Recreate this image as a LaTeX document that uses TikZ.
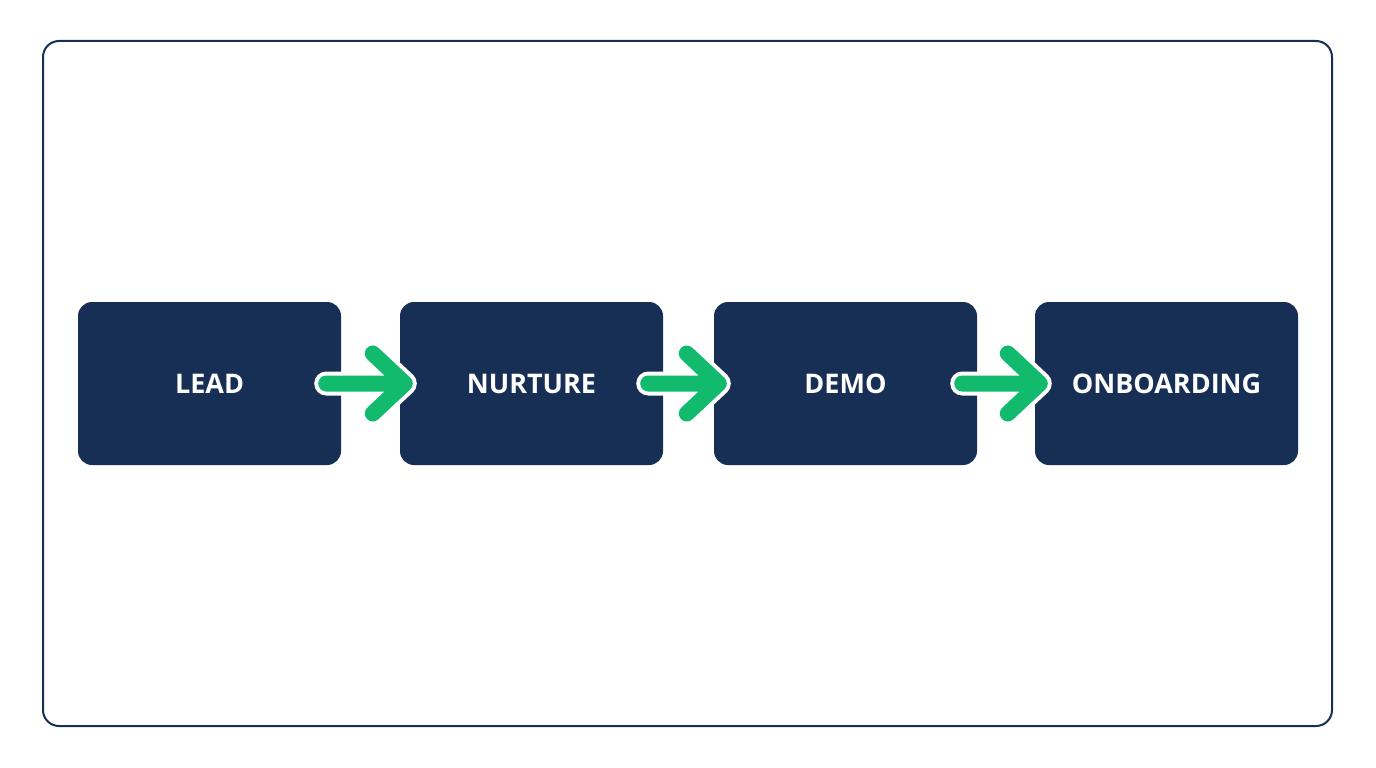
\documentclass[tikz,border=0pt]{standalone}
\usepackage{fontspec}
\setmainfont{Open Sans}[BoldFont={Open Sans Bold}]
\definecolor{navy}{HTML}{172E55}
\definecolor{grn}{HTML}{12BA6E}
\begin{document}
\begin{tikzpicture}[x=1pt,y=-1pt,
  box/.style={fill=navy,rounded corners=14pt,minimum width=263pt,minimum height=163pt,inner sep=0pt,text=white,font=\fontsize{27}{30}\selectfont\bfseries},
  arrw/.style={line width=24pt,white,line cap=round,line join=round},
  arrg/.style={line width=16pt,grn,line cap=round,line join=round}]
\useasboundingbox (0,0) rectangle (1376,768);
\draw[navy,line width=2pt,rounded corners=16pt] (43,41) rectangle (1332,726);
\node[box] (a) at (209.5,383.5) {LEAD};
\node[box] (b) at (531.5,383.5) {NURTURE};
\node[box] (c) at (845.5,383.5) {DEMO};
\node[box] (d) at (1166.5,383.5) {ONBOARDING};
\foreach \p/\q in {a/b,b/c,c/d}{
  \coordinate (s\p) at ([xshift=-15pt]\p.east);
  \coordinate (t\p) at ([xshift=5pt]\q.west);
  \coordinate (u\p) at ([xshift=-32pt,yshift=-30pt]t\p);
  \coordinate (l\p) at ([xshift=-32pt,yshift=30pt]t\p);
  \draw[arrw] (s\p) -- (t\p) (u\p) -- (t\p) -- (l\p);
  \draw[arrg] (s\p) -- (t\p) (u\p) -- (t\p) -- (l\p);
}
\end{tikzpicture}
\end{document}
